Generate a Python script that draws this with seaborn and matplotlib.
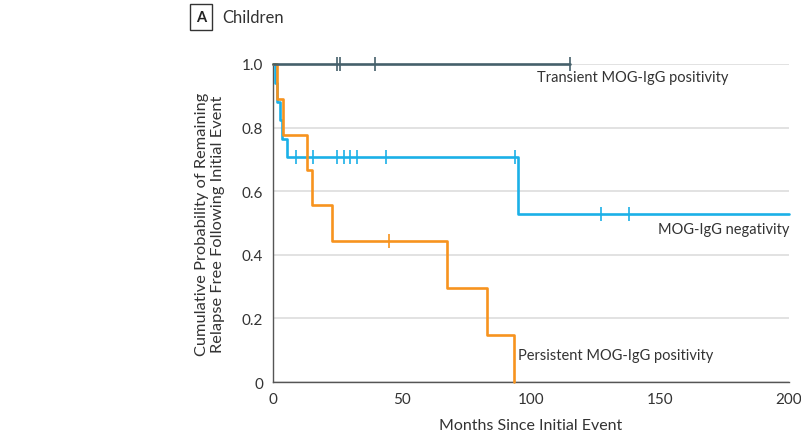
import matplotlib
matplotlib.use("Agg")
import matplotlib.pyplot as plt
import seaborn as sns
import pandas as pd

# ------------------------------
# Kaplan-Meier step data
# ------------------------------
neg_time = [0, 0.8, 1.6, 2.7, 3.4, 5.5, 95, 200]
neg_surv = [1.0, 0.941, 0.882, 0.824, 0.765, 0.706, 0.529, 0.529]
neg_cens_time = [8.8, 15.4, 24.9, 27.5, 29.8, 32.5, 43.9, 93.8, 127, 138]
neg_cens_surv = [0.706] * 8 + [0.529] * 2

pers_time = [0, 1.4, 4, 13, 15, 22.7, 67.3, 83, 93.4]
pers_surv = [1.0, 0.889, 0.778, 0.667, 0.556, 0.444, 0.296, 0.148, 0.0]
pers_cens_time = [45]
pers_cens_surv = [0.444]

trans_time = [0, 115]
trans_surv = [1.0, 1.0]
trans_cens_time = [24.8, 26.0, 39.5, 115]
trans_cens_surv = [1.0, 1.0, 1.0, 1.0]

c_neg = "#1bb0e7"
c_pers = "#f7931e"
c_trans = "#45606b"

sns.set_style("white")
plt.rcParams["font.family"] = ["Lato", "DejaVu Sans"]

fig = plt.figure(figsize=(8.01, 4.35), dpi=100)
ax = fig.add_axes([0.3408, 0.1195, 0.6442, 0.7311])

curves = [
    (neg_time, neg_surv, neg_cens_time, neg_cens_surv, c_neg),
    (pers_time, pers_surv, pers_cens_time, pers_cens_surv, c_pers),
    (trans_time, trans_surv, trans_cens_time, trans_cens_surv, c_trans),
]
for t, s, ct, cs, col in curves:
    d = pd.DataFrame({"t": t, "s": s})
    sns.lineplot(data=d, x="t", y="s", drawstyle="steps-post", color=col,
                 linewidth=1.9, ax=ax, clip_on=False, zorder=3)
    dc = pd.DataFrame({"t": ct, "s": cs})
    sns.scatterplot(data=dc, x="t", y="s", marker="|", s=90, color=col,
                    linewidth=1.2, ax=ax, clip_on=False, zorder=4)

ax.set_xlim(0, 200)
ax.set_ylim(0, 1.0)
ax.set_xticks([0, 50, 100, 150, 200])
ax.set_yticks([0, 0.2, 0.4, 0.6, 0.8, 1.0])
ax.set_yticklabels(["0", "0.2", "0.4", "0.6", "0.8", "1.0"])
ax.yaxis.grid(True, color="#dddddd", linewidth=1.2, zorder=0)
ax.set_axisbelow(True)
for side in ["top", "right"]:
    ax.spines[side].set_visible(False)
for side in ["left", "bottom"]:
    ax.spines[side].set_color("#555555")
    ax.spines[side].set_linewidth(1.0)
ax.tick_params(axis="both", direction="out", length=5, width=1, color="#555555",
               labelsize=11, labelcolor="#333333", pad=2)

ax.set_xlabel("Months Since Initial Event", fontsize=11.5, color="#333333", labelpad=9)
ax.set_ylabel("Cumulative Probability of Remaining\nRelapse Free Following Initial Event",
              fontsize=11.8, color="#333333", labelpad=12)

ax.text(102.5, 0.96, "Transient MOG-IgG positivity", fontsize=10.5, color="#333333",
        ha="left", va="center")
ax.text(200, 0.48, "MOG-IgG negativity", fontsize=10.5, color="#333333",
        ha="right", va="center")
ax.text(95, 0.085, "Persistent MOG-IgG positivity", fontsize=10.5, color="#333333",
        ha="left", va="center")

fig.text(0.251, 0.958, "A", fontsize=10.5, fontweight="bold", color="#222222",
         ha="center", va="center",
         bbox=dict(boxstyle="square,pad=0.4", facecolor="white", edgecolor="#333333", linewidth=1))
fig.text(0.277, 0.958, "Children", fontsize=12, color="#333333", ha="left", va="center")

fig.savefig("out.png", dpi=100)
